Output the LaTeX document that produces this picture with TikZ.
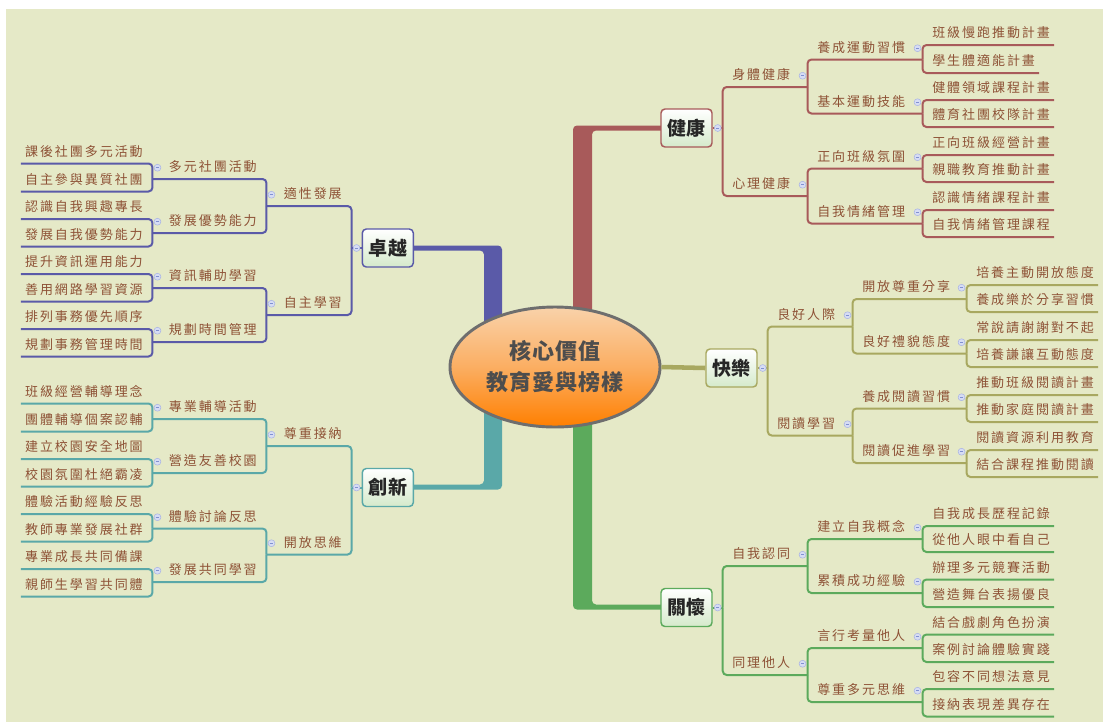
\documentclass[tikz,border=0pt]{standalone}
\usepackage{fontspec}
\usetikzlibrary{shapes.geometric,calc}
\newfontfamily\cjk[LetterSpace=15]{Noto Sans CJK TC}
\newfontfamily\cjkm[LetterSpace=4]{Noto Sans CJK TC}
\definecolor{bgc}{HTML}{E5E9C7}
\definecolor{cred}{HTML}{A85A5A}
\definecolor{cblue}{HTML}{5A5AA8}
\definecolor{cteal}{HTML}{5AA8A8}
\definecolor{cgreen}{HTML}{5CAA5C}
\definecolor{colive}{HTML}{A8A860}
\definecolor{txt}{HTML}{8E5236}
\definecolor{colf}{HTML}{D6DCF4}
\definecolor{coll}{HTML}{A9B4E4}
\definecolor{colm}{HTML}{8090D0}
\definecolor{mainfill}{HTML}{D5EACB}
\definecolor{coretxt}{HTML}{4D4D4D}
\definecolor{coreline}{HTML}{6E6E6E}
\definecolor{coretop}{HTML}{F9D2AA}
\definecolor{coremid}{HTML}{FBAE62}
\definecolor{corebot}{HTML}{FF7F00}
\newcommand\colps[1]{\filldraw[fill=colf,draw=coll,line width=0.4pt] #1 circle (2.6pt); \draw[draw=colm, line width=0.5pt] #1 ++(-1.3pt,0) -- ++(2.6pt,0);}
\tikzset{
 lbl/.style={font=\cjk\fontsize{9.75pt}{11pt}\selectfont, text=txt, text height=7.5pt, text depth=1.5pt, inner ysep=3.75pt},
 rint/.style={lbl, anchor=south west, inner xsep=7.5pt, align=left},
 lint/.style={lbl, anchor=south east, inner xsep=7.5pt, align=right},
 rleaf/.style={lbl, anchor=south west, inner xsep=3pt},
 lleaf/.style={lbl, anchor=south east, inner xsep=3pt},
 mainnode/.style={draw=#1, line width=1.1pt, rounded corners=3pt, top color=white, bottom color=mainfill, minimum width=38.25pt, minimum height=28.5pt, inner sep=0pt, font=\cjkm\bfseries\fontsize{14.25pt}{16pt}\selectfont, text=black!85},
 br/.style={draw=#1, line width=1.5pt, rounded corners=3pt},
}
\begin{document}
\begin{tikzpicture}[x=0.75pt,y=-0.75pt]
\useasboundingbox (0,0) rectangle (1103,722);
\fill[bgc] (6,9) rectangle (1103,722);
% thick main branches
\fill[cred, rounded corners=3pt] (573,335) -- (573,125.5) -- (670,125.5) -- (670,130.5) -- (592,130.5) -- (592,335) -- cycle;
\fill[cgreen, rounded corners=3pt] (573,400) -- (573,609.5) -- (670,609.5) -- (670,604.5) -- (592,604.5) -- (592,400) -- cycle;
\fill[cblue, rounded corners=3pt] (502,340) -- (502,245.5) -- (405,245.5) -- (405,250.5) -- (484,250.5) -- (484,340) -- cycle;
\fill[cteal, rounded corners=3pt] (502,400) -- (502,489.5) -- (405,489.5) -- (405,484.5) -- (484,484.5) -- (484,400) -- cycle;
% core
\node[ellipse, draw=coreline, line width=2.2pt, top color=coretop, bottom color=corebot, middle color=coremid, minimum width=157.5pt, minimum height=90pt, inner sep=0pt, align=center, font=\cjkm\bfseries\fontsize{16.5pt}{23.25pt}\selectfont, text=coretxt] (core) at (555,367) {核心價值\\教育愛與榜樣};
% main nodes
\node[mainnode=cred] (health) at (686.5,128) {健康};
\node[mainnode=colive] (happy) at (731.5,368) {快樂};
\node[mainnode=cgreen] (care) at (686.5,607.5) {關懷};
\node[mainnode=cblue] (excel) at (387.8,248) {卓越};
\node[mainnode=cteal] (innov) at (387.8,487.5) {創新};
\draw[colive, line width=3.4pt] (core.east) -- (happy.west);
\coordinate (hj) at ($(health.east)+(10,0)$);
\coordinate (pj) at ($(happy.east)+(10,0)$);
\coordinate (cj) at ($(care.east)+(10,0)$);
\coordinate (ej) at ($(excel.west)+(-10,0)$);
\coordinate (nj) at ($(innov.west)+(-10,0)$);
% ---------- health ----------
\node[rint, text width=48.75pt] (h1) at (722,87) {身體健康};
\node[rint, text width=48.75pt] (h2) at (722,196) {心理健康};
\node[rint, text width=71.25pt] (h11) at (807,59.5) {養成運動習慣};
\node[rint, text width=71.25pt] (h12) at (807,113.5) {基本運動技能};
\node[rint, text width=71.25pt] (h21) at (807,168.5) {正向班級氛圍};
\node[rint, text width=71.25pt] (h22) at (807,223.5) {自我情緒管理};
\node[rleaf] (h111) at (928,45) {班級慢跑推動計畫};
\node[rleaf] (h112) at (928,73) {學生體適能計畫};
\node[rleaf] (h121) at (928,100) {健體領域課程計畫};
\node[rleaf] (h122) at (928,127) {體育社團校隊計畫};
\node[rleaf] (h211) at (928,155) {正向班級經營計畫};
\node[rleaf] (h212) at (928,182) {親職教育推動計畫};
\node[rleaf] (h221) at (928,210) {認識情緒課程計畫};
\node[rleaf] (h222) at (928,237) {自我情緒管理課程};
\draw[br=cred] (health.east) -- (hj);
\foreach \c in {h1,h2} {\draw[br=cred] (hj) |- (\c.south east);}
\foreach \p/\c in {h1/h11,h1/h12,h2/h21,h2/h22,h11/h111,h11/h112,h12/h121,h12/h122,h21/h211,h21/h212,h22/h221,h22/h222}
  {\draw[br=cred] (\p.south east) |- (\c.south east);}
% ---------- happy ----------
\node[rint, text width=48.75pt] (p1) at (767,326.5) {良好人際};
\node[rint, text width=48.75pt] (p2) at (767,435.5) {閱讀學習};
\node[rint, text width=70.5pt] (p11) at (852,299) {開放尊重分享};
\node[rint, text width=70.5pt] (p12) at (852,353.5) {良好禮貌態度};
\node[rint, text width=70.5pt] (p21) at (852,408.5) {養成閱讀習慣};
\node[rint, text width=70.5pt] (p22) at (852,463) {閱讀促進學習};
\node[rleaf] (p111) at (972,285) {培養主動開放態度};
\node[rleaf] (p112) at (972,312) {養成樂於分享習慣};
\node[rleaf] (p121) at (972,340) {常說請謝謝對不起};
\node[rleaf] (p122) at (972,367) {培養謙讓互動態度};
\node[rleaf] (p211) at (972,395) {推動班級閱讀計畫};
\node[rleaf] (p212) at (972,422) {推動家庭閱讀計畫};
\node[rleaf] (p221) at (972,450) {閱讀資源利用教育};
\node[rleaf] (p222) at (972,477) {結合課程推動閱讀};
\draw[br=colive] (happy.east) -- (pj);
\foreach \c in {p1,p2} {\draw[br=colive] (pj) |- (\c.south east);}
\foreach \p/\c in {p1/p11,p1/p12,p2/p21,p2/p22,p11/p111,p11/p112,p12/p121,p12/p122,p21/p211,p21/p212,p22/p221,p22/p222}
  {\draw[br=colive] (\p.south east) |- (\c.south east);}
% ---------- care ----------
\node[rint, text width=48.75pt] (c1) at (722,566) {自我認同};
\node[rint, text width=48.75pt] (c2) at (722,675) {同理他人};
\node[rint, text width=71.25pt] (c11) at (807,539) {建立自我概念};
\node[rint, text width=71.25pt] (c12) at (807,593) {累積成功經驗};
\node[rint, text width=71.25pt] (c21) at (807,648) {言行考量他人};
\node[rint, text width=71.25pt] (c22) at (807,702) {尊重多元思維};
\node[rleaf] (c111) at (928,526) {自我成長歷程記錄};
\node[rleaf] (c112) at (928,552) {從他人眼中看自己};
\node[rleaf] (c121) at (928,579.5) {辦理多元競賽活動};
\node[rleaf] (c122) at (928,607) {營造舞台表揚優良};
\node[rleaf] (c211) at (928,634.5) {結合戲劇角色扮演};
\node[rleaf] (c212) at (928,662) {案例討論體驗實踐};
\node[rleaf] (c221) at (928,689) {包容不同想法意見};
\node[rleaf] (c222) at (928,716.5) {接納表現差異存在};
\draw[br=cgreen] (care.east) -- (cj);
\foreach \c in {c1,c2} {\draw[br=cgreen] (cj) |- (\c.south east);}
\foreach \p/\c in {c1/c11,c1/c12,c2/c21,c2/c22,c11/c111,c11/c112,c12/c121,c12/c122,c21/c211,c21/c212,c22/c221,c22/c222}
  {\draw[br=cgreen] (\p.south east) |- (\c.south east);}
% ---------- excel ----------
\node[lint, text width=48.75pt] (e1) at (352,206) {適性發展};
\node[lint, text width=48.75pt] (e2) at (352,315) {自主學習};
\node[lint, text width=70.5pt] (e11) at (267,179) {多元社團活動};
\node[lint, text width=70.5pt] (e12) at (267,233) {發展優勢能力};
\node[lint, text width=70.5pt] (e21) at (267,288) {資訊輔助學習};
\node[lint, text width=70.5pt] (e22) at (267,342) {規劃時間管理};
\node[lleaf] (e111) at (147,163.5) {課後社團多元活動};
\node[lleaf] (e112) at (147,191.5) {自主參與異質社團};
\node[lleaf] (e121) at (147,219) {認識自我興趣專長};
\node[lleaf] (e122) at (147,246.5) {發展自我優勢能力};
\node[lleaf] (e211) at (147,274) {提升資訊運用能力};
\node[lleaf] (e212) at (147,301.5) {善用網路學習資源};
\node[lleaf] (e221) at (147,329) {排列事務優先順序};
\node[lleaf] (e222) at (147,356.5) {規劃事務管理時間};
\draw[br=cblue] (excel.west) -- (ej);
\foreach \c in {e1,e2} {\draw[br=cblue] (ej) |- (\c.south west);}
\foreach \p/\c in {e1/e11,e1/e12,e2/e21,e2/e22,e11/e111,e11/e112,e12/e121,e12/e122,e21/e211,e21/e212,e22/e221,e22/e222}
  {\draw[br=cblue] (\p.south west) |- (\c.south west);}
% ---------- innov ----------
\node[lint, text width=48.75pt] (n1) at (352,446) {尊重接納};
\node[lint, text width=48.75pt] (n2) at (352,554.5) {開放思維};
\node[lint, text width=70.5pt] (n11) at (267,419) {專業輔導活動};
\node[lint, text width=70.5pt] (n12) at (267,473) {營造友善校園};
\node[lint, text width=70.5pt] (n21) at (267,528.5) {體驗討論反思};
\node[lint, text width=70.5pt] (n22) at (267,582) {發展共同學習};
\node[lleaf] (n111) at (147,403.5) {班級經營輔導理念};
\node[lleaf] (n112) at (147,431.5) {團體輔導個案認輔};
\node[lleaf] (n121) at (147,459) {建立校園安全地圖};
\node[lleaf] (n122) at (147,486.5) {校園氛圍杜絕霸凌};
\node[lleaf] (n211) at (147,514) {體驗活動經驗反思};
\node[lleaf] (n212) at (147,541.5) {教師專業發展社群};
\node[lleaf] (n221) at (147,569) {專業成長共同備課};
\node[lleaf] (n222) at (147,596.5) {親師生學習共同體};
\draw[br=cteal] (innov.west) -- (nj);
\foreach \c in {n1,n2} {\draw[br=cteal] (nj) |- (\c.south west);}
\foreach \p/\c in {n1/n11,n1/n12,n2/n21,n2/n22,n11/n111,n11/n112,n12/n121,n12/n122,n21/n211,n21/n212,n22/n221,n22/n222}
  {\draw[br=cteal] (\p.south west) |- (\c.south west);}
% ---------- collapse markers ----------
\foreach \n in {health,care,happy} {\colps{($(\n.east)+(5,0)$)}}
\foreach \n in {excel,innov} {\colps{($(\n.west)+(-5,0)$)}}
\foreach \n in {h1,h2,h11,h12,h21,h22,p1,p2,p11,p12,p21,p22,c1,c2,c11,c12,c21,c22} {\colps{($(\n.east)+(-5,0)$)}}
\foreach \n in {e1,e2,e11,e12,e21,e22,n1,n2,n11,n12,n21,n22} {\colps{($(\n.west)+(5,0)$)}}
\end{tikzpicture}
\end{document}
